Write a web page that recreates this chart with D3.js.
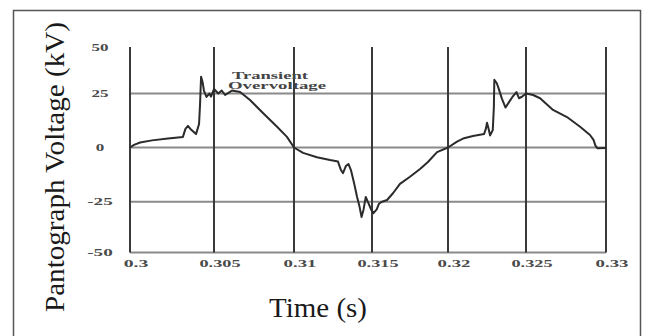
<!DOCTYPE html>
<html>
<head>
<meta charset="utf-8">
<script src="https://cdn.jsdelivr.net/npm/d3@7"></script>
<style>
  html, body { margin: 0; padding: 0; background: #fff; }
  svg { display: block; }
</style>
</head>
<body>
<svg id="chart" width="648" height="336"></svg>
<script>
const svg = d3.select("#chart");

// tick values and labels
const xTicks = [0.3, 0.305, 0.31, 0.315, 0.32, 0.325, 0.33];
const xTickLabels = ["0.3", "0.305", "0.31", "0.315", "0.32", "0.325", "0.33"];
const yTicks = [50, 25, 0, -25, -50];
const yTickLabels = ["50", "25", "0", "-25", "-50"];
const yGridValues = [25, 0, -25, -50];

// pantograph voltage trace
const timeS = [
    0.3, 0.30024, 0.3006, 0.30131, 0.30226, 0.30315, 0.3033, 0.30345, 0.30363, 0.30393,
    0.30411, 0.30417, 0.30423, 0.30432, 0.3044, 0.30455, 0.30473, 0.30482, 0.305, 0.30527,
    0.30548, 0.30569, 0.30588, 0.30613, 0.30663, 0.30725, 0.30806, 0.30894, 0.30956, 0.31,
    0.31058, 0.31147, 0.31231, 0.31282, 0.31301, 0.31314, 0.31333, 0.31349, 0.31365, 0.31385,
    0.31404, 0.3142, 0.31433, 0.31446, 0.3146, 0.31477, 0.31494, 0.3151, 0.31531, 0.31546,
    0.31566, 0.31599, 0.31638, 0.31684, 0.3175, 0.31816, 0.31868, 0.31928, 0.32,
    0.32058, 0.32103, 0.3216, 0.32231, 0.32244, 0.3225, 0.32259, 0.3227, 0.32287, 0.32294,
    0.32297, 0.32313, 0.32327, 0.32346, 0.32369, 0.32391, 0.32413, 0.32439, 0.32455, 0.32474,
    0.325, 0.32544, 0.32588, 0.32669, 0.32756, 0.32838, 0.329, 0.32922, 0.32934, 0.32947, 0.33
];
const voltageKV = [
    0, 1.2, 2.3, 3.3, 4.2, 4.9, 8.6, 10, 8.3, 6.2,
    10.9, 20.1, 34, 31.2, 26.6, 23.4, 25, 23.6, 27.4, 25,
    26.6, 24.3, 25.2, 26.6, 25.8, 22, 16, 9.6, 4.9, 0,
    -2.5, -4.5, -5.8, -6.5, -10.4, -11.8, -8.5, -7.6, -10.4, -16.4,
    -22.7, -27.4, -32.5, -28.8, -22.8, -25.7, -28.8, -30.6, -28.8, -26,
    -25, -24.2, -21.1, -16.8, -13.5, -9.9, -6.7, -2.1, 0,
    2.7, 4.3, 5.3, 6.2, 9, 11.5, 9, 5.6, 8.1, 18.7,
    32.4, 30.5, 27.1, 22.5, 18.5, 21, 23.4, 25.8, 22.8, 23.5,
    25, 24.3, 22.8, 17.4, 14.1, 9.6, 5.8, 3.5, 0.9, -0.4, -0.2
];

const points = timeS.map((t, i) => ({ t: t, v: voltageKV[i] }));

// the scan is slightly uneven, so the scales pass through each grid line
const x = d3.scaleLinear().domain(xTicks).range([130, 214, 294, 372, 448, 526, 606]);
const y = d3.scaleLinear().domain([-50, -25, 0, 25, 50]).range([252.5, 201.7, 147.5, 93.5, 47]);

// outer frame
svg.append("rect")
    .attr("x", 13.5).attr("y", 10.5)
    .attr("width", 627).attr("height", 340)
    .attr("fill", "none")
    .attr("stroke", "#555")
    .attr("stroke-width", 1.5);

// horizontal grid
svg.append("g").selectAll("line")
    .data(yGridValues)
    .enter().append("line")
    .attr("x1", x(0.3)).attr("x2", x(0.33))
    .attr("y1", d => y(d)).attr("y2", d => y(d))
    .attr("stroke", "#8a8a8a")
    .attr("stroke-width", 2);

// vertical grid
svg.append("g").selectAll("line")
    .data(xTicks)
    .enter().append("line")
    .attr("x1", d => x(d)).attr("x2", d => x(d))
    .attr("y1", y(50)).attr("y2", y(-50))
    .attr("stroke", "#3a3a3a")
    .attr("stroke-width", 2);

// x tick labels
svg.append("g").selectAll("text")
    .data(xTicks)
    .enter().append("text")
    .attr("x", d => x(d) + 6)
    .attr("y", 267)
    .attr("text-anchor", "middle")
    .attr("textLength", (d, i) => xTickLabels[i].length * 8.2)
    .attr("lengthAdjust", "spacingAndGlyphs")
    .style("font-family", "'Liberation Serif', serif")
    .style("font-weight", "bold")
    .style("font-size", "10px")
    .style("fill", "#4a4a4a")
    .text((d, i) => xTickLabels[i]);

// y tick labels
svg.append("g").selectAll("text")
    .data(yTicks)
    .enter().append("text")
    .attr("x", 100)
    .attr("y", d => y(d) + 3.5)
    .attr("text-anchor", "middle")
    .attr("textLength", (d, i) => yTickLabels[i].length * 8.5)
    .attr("lengthAdjust", "spacingAndGlyphs")
    .style("font-family", "'Liberation Serif', serif")
    .style("font-weight", "bold")
    .style("font-size", "10px")
    .style("fill", "#4a4a4a")
    .text((d, i) => yTickLabels[i]);

// voltage trace
const line = d3.line()
    .x(d => x(d.t))
    .y(d => y(d.v));

svg.append("path")
    .datum(points)
    .attr("d", line)
    .attr("fill", "none")
    .attr("stroke", "#2b2b2b")
    .attr("stroke-width", 2)
    .attr("stroke-linejoin", "round");

// annotation
const note = svg.append("g")
    .style("font-family", "'Liberation Serif', serif")
    .style("font-weight", "bold")
    .style("font-size", "10px")
    .style("fill", "#444");
note.append("text").attr("x", 232).attr("y", 79)
    .attr("textLength", 76).attr("lengthAdjust", "spacingAndGlyphs")
    .text("Transient");
note.append("text").attr("x", 228).attr("y", 89)
    .attr("textLength", 98).attr("lengthAdjust", "spacingAndGlyphs")
    .text("Overvoltage");

// axis titles
svg.append("text")
    .attr("transform", "translate(64,167) rotate(-90)")
    .attr("text-anchor", "middle")
    .attr("textLength", 290)
    .attr("lengthAdjust", "spacingAndGlyphs")
    .style("font-family", "'Liberation Serif', serif")
    .style("font-size", "28px")
    .style("fill", "#1a1a1a")
    .text("Pantograph Voltage (kV)");

svg.append("text")
    .attr("x", 318)
    .attr("y", 317)
    .attr("text-anchor", "middle")
    .attr("textLength", 98)
    .attr("lengthAdjust", "spacingAndGlyphs")
    .style("font-family", "'Liberation Serif', serif")
    .style("font-size", "27px")
    .style("fill", "#1a1a1a")
    .text("Time (s)");
</script>
</body>
</html>
